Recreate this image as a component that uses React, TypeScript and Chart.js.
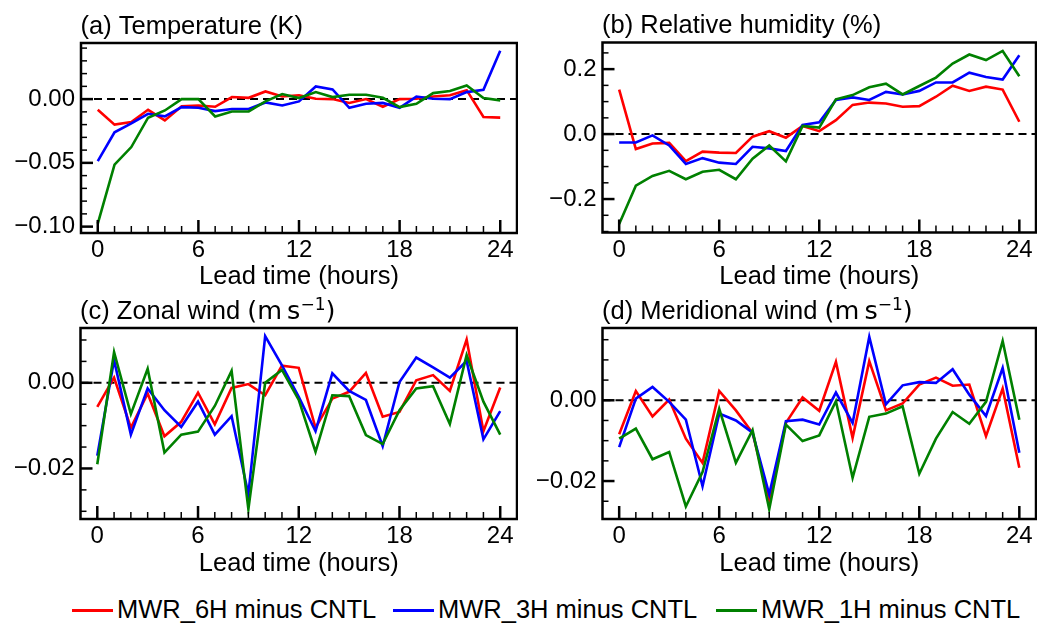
import React, { useEffect, useRef } from "react";
import { Chart, registerables } from "chart.js";

Chart.register(...registerables);

// ---------- data ----------
const hours = [0, 1, 2, 3, 4, 5, 6, 7, 8, 9, 10, 11, 12, 13, 14, 15, 16, 17, 18, 19, 20, 21, 22, 23, 24];
const xTickLabels = [0, 6, 12, 18, 24];

const seriesLabels = ["MWR_6H minus CNTL", "MWR_3H minus CNTL", "MWR_1H minus CNTL"];
const seriesColors = ["#ff0000", "#0000ff", "#008000"];

// (a) Temperature (K)
const tempMWR6H = [-0.0084, -0.020, -0.018, -0.0084, -0.0167, -0.0057, -0.005, -0.006, 0.0016, 0.001, 0.006, 0.002, 0.003, 0.0003, 0.0, -0.003, 0.0, -0.006, 0.0, 0.0003, 0.002, 0.003, 0.007, -0.014, -0.0145];
const tempMWR3H = [-0.0486, -0.026, -0.019, -0.0115, -0.0135, -0.0063, -0.0068, -0.0094, -0.0078, -0.0078, -0.0026, -0.005, -0.0018, 0.0099, 0.0076, -0.0068, -0.0037, -0.003, -0.0068, 0.002, 0.0003, 0.0, 0.0055, 0.0073, 0.038];
const tempMWR1H = [-0.0977, -0.0514, -0.0376, -0.0146, -0.0089, 0.0, 0.0, -0.0136, -0.0097, -0.0097, -0.0018, 0.004, 0.0008, 0.0055, 0.0016, 0.0034, 0.0034, 0.001, -0.0063, -0.0037, 0.0047, 0.0063, 0.0107, 0.0008, -0.001];

// (b) Relative humidity (%)
const rhMWR6H = [0.137, -0.046, -0.029, -0.027, -0.083, -0.054, -0.057, -0.058, -0.008, 0.009, -0.011, 0.025, 0.009, 0.043, 0.090, 0.097, 0.094, 0.084, 0.086, 0.115, 0.149, 0.133, 0.146, 0.137, 0.038];
const rhMWR3H = [-0.026, -0.026, -0.004, -0.035, -0.092, -0.074, -0.088, -0.092, -0.039, -0.044, -0.052, 0.028, 0.036, 0.105, 0.113, 0.105, 0.130, 0.122, 0.133, 0.159, 0.159, 0.189, 0.176, 0.168, 0.243];
const rhMWR1H = [-0.277, -0.159, -0.129, -0.113, -0.139, -0.116, -0.110, -0.139, -0.076, -0.035, -0.084, 0.025, 0.020, 0.107, 0.120, 0.144, 0.155, 0.122, 0.148, 0.174, 0.217, 0.245, 0.228, 0.256, 0.178];

// (c) Zonal wind (m s-1)
const uMWR6H = [-0.0056, 0.0012, -0.0105, -0.0025, -0.0125, -0.0091, -0.0023, -0.0097, -0.0012, -0.0003, -0.0029, 0.0040, 0.0035, -0.0105, -0.0037, -0.0021, 0.0023, -0.0079, -0.0068, 0.0006, 0.0018, -0.0019, 0.0101, -0.0113, -0.0011];
const uMWR3H = [-0.0170, 0.0053, -0.0121, -0.0013, -0.0064, -0.0103, -0.0044, -0.0121, -0.0078, -0.0260, 0.0109, 0.0041, -0.0033, -0.0113, 0.0022, -0.0019, -0.0040, -0.0148, 0.0002, 0.0059, 0.0036, 0.0012, 0.0051, -0.0132, -0.0066];
const uMWR1H = [-0.0190, 0.0072, -0.0073, 0.0033, -0.0163, -0.0121, -0.0114, -0.0054, 0.0028, -0.0295, 0.0, 0.0030, -0.0040, -0.0161, -0.0029, -0.0031, -0.0122, -0.0143, -0.0064, -0.0013, -0.0008, -0.0096, 0.0065, -0.0044, -0.0121];

// (d) Meridional wind (m s-1)
const vMWR6H = [-0.0084, 0.0023, -0.0040, 0.0002, -0.0095, -0.0155, 0.0023, -0.0025, -0.0081, -0.0246, -0.0056, 0.0007, -0.0026, 0.0095, -0.0093, 0.0097, -0.0025, -0.0008, 0.0039, 0.0056, 0.0036, 0.0039, -0.0089, 0.0029, -0.0167];
const vMWR3H = [-0.0116, 0.0004, 0.0033, -0.0004, -0.0048, -0.0213, -0.0033, -0.0050, -0.0080, -0.0233, -0.0052, -0.0048, -0.0060, 0.0019, -0.0056, 0.0157, -0.0010, 0.0037, 0.0045, 0.0043, 0.0077, 0.0014, -0.0039, 0.0080, -0.0130];
const vMWR1H = [-0.0095, -0.0070, -0.0146, -0.0128, -0.0263, -0.0178, -0.0021, -0.0155, -0.0074, -0.0270, -0.0060, -0.0101, -0.0087, -0.0002, -0.0192, -0.0041, -0.0033, -0.0015, -0.0182, -0.0095, -0.0029, -0.0058, -0.0004, 0.0147, -0.0048];

// axis ranges / tick steps
const xRange = [-1, 25];
const yRangeTemp = [-0.105, 0.044];
const yRangeRH = [-0.303, 0.282];
const yRangeU = [-0.0318, 0.0128];
const yRangeV = [-0.0294, 0.0179];

const FONT = "'Liberation Sans', Arial, Helvetica, sans-serif";
const MATH_FONT = "'DejaVu Sans', sans-serif";
const MINUS = "\u2212";
const TEXT_SIZE = 25.5;
const TICK_SIZE = 24;

// ---------- layout ----------
type Part = { text: string; sup?: boolean; math?: boolean };
type Panel = {
  key: string;
  titleParts: Part[];
  series: number[][];
  yRange: number[];
  major: number;
  minor: number;
  decimals: number;
  canvas: { left: number; top: number; width: number; height: number };
  plot: { left: number; right: number; top: number; bottom: number };
  xTitlePad: number;
};

const panels: Panel[] = [
  {
    key: "a",
    titleParts: [{ text: "(a) Temperature (K)" }],
    series: [tempMWR6H, tempMWR3H, tempMWR1H],
    yRange: yRangeTemp,
    major: 0.05,
    minor: 0.01,
    decimals: 2,
    canvas: { left: 0, top: 0, width: 518, height: 290 },
    plot: { left: 81, right: 517, top: 43, bottom: 233 },
    xTitlePad: 0.2,
  },
  {
    key: "b",
    titleParts: [{ text: "(b) Relative humidity (%)" }],
    series: [rhMWR6H, rhMWR3H, rhMWR1H],
    yRange: yRangeRH,
    major: 0.2,
    minor: 0.05,
    decimals: 1,
    canvas: { left: 518, top: 0, width: 519, height: 290 },
    plot: { left: 602.5, right: 1036, top: 42.5, bottom: 232.5 },
    xTitlePad: 0.2,
  },
  {
    key: "c",
    titleParts: [
      { text: "(c) Zonal wind " },
      { text: "(m\u2009s", math: true },
      { text: MINUS + "1", sup: true, math: true },
      { text: ")", math: true },
    ],
    series: [uMWR6H, uMWR3H, uMWR1H],
    yRange: yRangeU,
    major: 0.02,
    minor: 0.005,
    decimals: 2,
    canvas: { left: 0, top: 290, width: 518, height: 300 },
    plot: { left: 80.5, right: 517, top: 328, bottom: 519 },
    xTitlePad: 13.2,
  },
  {
    key: "d",
    titleParts: [
      { text: "(d) Meridional wind " },
      { text: "(m\u2009s", math: true },
      { text: MINUS + "1", sup: true, math: true },
      { text: ")", math: true },
    ],
    series: [vMWR6H, vMWR3H, vMWR1H],
    yRange: yRangeV,
    major: 0.02,
    minor: 0.005,
    decimals: 2,
    canvas: { left: 518, top: 290, width: 519, height: 300 },
    plot: { left: 602.5, right: 1036, top: 328, bottom: 519 },
    xTitlePad: 13.2,
  },
];

// ---------- plugins ----------
const frameTicksPlugin = {
  id: "frameTicks",
  afterDatasetsDraw(chart: any, _args: any, opts: any) {
    const { ctx, chartArea: a, scales } = chart;
    const xs = scales.x;
    const ys = scales.y;
    ctx.save();
    ctx.strokeStyle = "#000";
    ctx.lineCap = "butt";
    // x ticks (inward)
    for (const h of hours) {
      const px = xs.getPixelForValue(h);
      const major = xTickLabels.includes(h);
      ctx.lineWidth = major ? 2.5 : 1.5;
      ctx.beginPath();
      ctx.moveTo(px, a.bottom);
      ctx.lineTo(px, a.bottom - (major ? 13 : 7));
      ctx.stroke();
    }
    // y ticks (inward)
    const step = opts.minor;
    const start = Math.ceil(ys.min / step - 1e-9);
    const end = Math.floor(ys.max / step + 1e-9);
    for (let k = start; k <= end; k++) {
      const v = k * step;
      const r = v / opts.major;
      const major = Math.abs(r - Math.round(r)) < 1e-6;
      const py = ys.getPixelForValue(v);
      ctx.lineWidth = major ? 2.5 : 1.5;
      ctx.beginPath();
      ctx.moveTo(a.left, py);
      ctx.lineTo(a.left + (major ? 12 : 6), py);
      ctx.stroke();
    }
    ctx.lineWidth = 2.5;
    ctx.strokeRect(a.left, a.top, a.right - a.left, a.bottom - a.top);
    ctx.restore();
  },
};

const panelTitlePlugin = {
  id: "panelTitle",
  afterDraw(chart: any, _args: any, opts: any) {
    const { ctx, chartArea } = chart;
    let x = chartArea.left - 0.5;
    const y = chartArea.top - 9.5;
    ctx.save();
    ctx.fillStyle = "#000";
    ctx.textAlign = "left";
    ctx.textBaseline = "alphabetic";
    for (const part of (opts.parts || []) as Part[]) {
      const size = part.sup ? 17 : TEXT_SIZE;
      ctx.font = `${size}px ${part.math ? MATH_FONT : FONT}`;
      ctx.fillText(part.text, x, y - (part.sup ? 9 : 0));
      x += ctx.measureText(part.text).width;
    }
    ctx.restore();
  },
};

function fmt(v: number, decimals: number) {
  if (Math.abs(v) < 1e-9) return (0).toFixed(decimals);
  const s = Math.abs(v).toFixed(decimals);
  return v < 0 ? MINUS + s : s;
}

function PanelChart({ p }: { p: Panel }) {
  const ref = useRef<HTMLCanvasElement | null>(null);
  useEffect(() => {
    if (!ref.current) return;
    const { canvas, plot } = p;
    const datasets: any[] = p.series.map((vals, i) => ({
      label: seriesLabels[i],
      data: vals.map((v, j) => ({ x: hours[j], y: v })),
      borderColor: seriesColors[i],
      backgroundColor: seriesColors[i],
      borderWidth: 2.6,
      pointRadius: 0,
      tension: 0,
      fill: false,
      order: 3 - i,
    }));
    datasets.push({
      label: "zero",
      data: [
        { x: xRange[0], y: 0 },
        { x: xRange[1], y: 0 },
      ],
      borderColor: "#000",
      borderWidth: 2,
      borderDash: [8, 5],
      pointRadius: 0,
      fill: false,
      order: 10,
    });
    const chart = new Chart(ref.current, {
      type: "line",
      data: { datasets },
      options: {
        animation: false,
        responsive: false,
        maintainAspectRatio: false,
        devicePixelRatio: 1,
        events: [],
        layout: {
          padding: {
            top: plot.top - canvas.top,
            right: canvas.left + canvas.width - plot.right,
            left: 0,
            bottom: 0,
          },
        },
        plugins: {
          legend: { display: false },
          tooltip: { enabled: false },
          title: { display: false },
          frameTicks: { major: p.major, minor: p.minor },
          panelTitle: { parts: p.titleParts },
        } as any,
        scales: {
          x: {
            type: "linear",
            min: xRange[0],
            max: xRange[1],
            grid: { display: false, drawTicks: false },
            border: { display: false },
            ticks: {
              stepSize: 6,
              includeBounds: false,
              autoSkip: false,
              maxRotation: 0,
              padding: 3,
              color: "#000",
              font: { family: FONT, size: TICK_SIZE },
              callback: (v: any) => (xTickLabels.includes(Number(v)) ? String(v) : ""),
            },
            title: {
              display: true,
              text: "Lead time (hours)",
              color: "#000",
              font: { family: FONT, size: TEXT_SIZE, lineHeight: 1 },
              padding: { top: 0, bottom: p.xTitlePad },
            },
            afterFit: (s: any) => {
              s.height = canvas.top + canvas.height - plot.bottom;
            },
          },
          y: {
            type: "linear",
            min: p.yRange[0],
            max: p.yRange[1],
            grid: { display: false, drawTicks: false },
            border: { display: false },
            ticks: {
              stepSize: p.major,
              includeBounds: false,
              autoSkip: false,
              padding: 6,
              color: "#000",
              font: { family: FONT, size: TICK_SIZE },
              callback: (v: any) => fmt(Number(v), p.decimals),
            },
            afterFit: (s: any) => {
              s.width = plot.left - canvas.left;
            },
          },
        } as any,
      },
      plugins: [frameTicksPlugin, panelTitlePlugin],
    } as any);
    return () => chart.destroy();
  }, [p]);

  return (
    <canvas
      ref={ref}
      width={p.canvas.width}
      height={p.canvas.height}
      style={{
        position: "absolute",
        left: p.canvas.left,
        top: p.canvas.top,
        width: p.canvas.width,
        height: p.canvas.height,
      }}
    />
  );
}

const legendItemLeft = [72, 393, 716];

export default function App() {
  return (
    <div
      style={{
        position: "absolute",
        left: 0,
        top: 0,
        width: 1037,
        height: 623,
        background: "#fff",
        overflow: "hidden",
        fontFamily: FONT,
      }}
    >
      {panels.map((p) => (
        <PanelChart key={p.key} p={p} />
      ))}
      {seriesLabels.map((label, i) => (
        <div key={label}>
          <div
            style={{
              position: "absolute",
              left: legendItemLeft[i],
              top: 609,
              width: 41,
              height: 3,
              background: seriesColors[i],
            }}
          />
          <div
            style={{
              position: "absolute",
              left: legendItemLeft[i] + 45,
              top: 596.5,
              fontSize: TEXT_SIZE,
              lineHeight: `${TEXT_SIZE}px`,
              color: "#000",
              whiteSpace: "nowrap",
            }}
          >
            {label}
          </div>
        </div>
      ))}
    </div>
  );
}
